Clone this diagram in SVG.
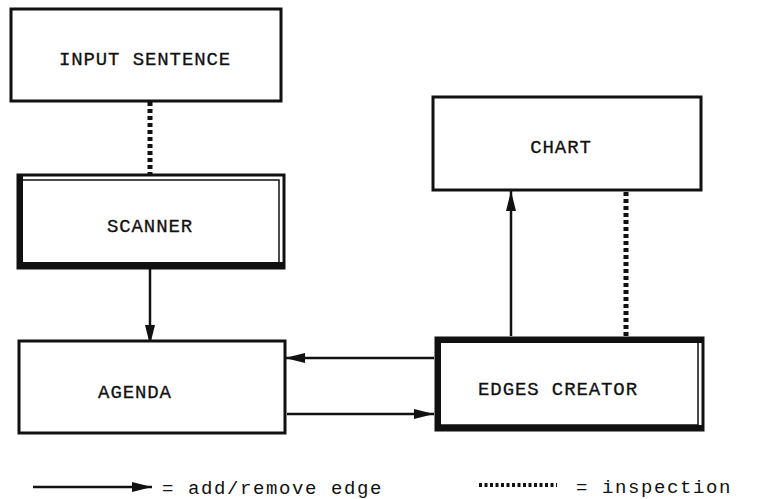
<svg xmlns="http://www.w3.org/2000/svg" width="764" height="499" viewBox="0 0 764 499">
<defs>
<style>
.box{fill:#fff;stroke:#111;stroke-width:3}
.in{fill:none;stroke:#111;stroke-width:1.5}
.thick{stroke:#111;stroke-width:6;fill:none}
.lbl{font-family:"Liberation Mono","DejaVu Sans Mono",monospace;font-size:19px;letter-spacing:0.9px;fill:#111;text-anchor:middle;stroke:#111;stroke-width:0.3}
.leg{font-family:"Liberation Mono","DejaVu Sans Mono",monospace;font-size:19px;letter-spacing:1.6px;fill:#111}
.arr{stroke:#111;stroke-width:2.5;fill:none;marker-end:url(#ah)}
.dot{stroke:#111;stroke-width:5;fill:none;stroke-dasharray:4 3}
</style>
<marker id="ah" viewBox="0 0 20 10" refX="20" refY="5" markerWidth="8" markerHeight="4" orient="auto" markerUnits="strokeWidth">
<path d="M0,0 L20,5 L0,10 Z" fill="#111"/>
</marker>
</defs>
<rect width="764" height="499" fill="#fff"/>
<g id="connectors">
<line class="dot" x1="150" y1="102" x2="150" y2="174"/>
<line class="arr" x1="150" y1="269" x2="150" y2="345"/>
<line class="arr" x1="511" y1="336" x2="511" y2="191"/>
<line class="dot" x1="626" y1="192" x2="626" y2="336"/>
<line class="arr" x1="434" y1="358" x2="285" y2="358"/>
<line class="arr" x1="287" y1="414" x2="434" y2="414"/>
</g>
<g id="input-sentence">
<rect class="box" x="11" y="9" width="270" height="92"/>
<text class="lbl" x="145" y="65">INPUT SENTENCE</text>
</g>
<g id="scanner">
<rect class="box" x="18" y="175" width="266" height="93"/>
<rect class="in" x="22" y="180" width="257" height="83"/>
<line class="thick" x1="20" y1="175" x2="20" y2="268"/>
<line class="thick" x1="18" y1="265" x2="284" y2="265"/>
<text class="lbl" x="150" y="232">SCANNER</text>
</g>
<g id="chart">
<rect class="box" x="433" y="97" width="268" height="93"/>
<text class="lbl" x="561" y="153">CHART</text>
</g>
<g id="agenda">
<rect class="box" x="19" y="341" width="266" height="92"/>
<text class="lbl" x="135" y="398">AGENDA</text>
</g>
<g id="edges-creator">
<rect class="box" x="436" y="338" width="267" height="92"/>
<rect class="in" x="440" y="342" width="258" height="83"/>
<line class="thick" x1="438" y1="338" x2="438" y2="430"/>
<line class="thick" x1="436" y1="340" x2="703" y2="340"/>
<line class="thick" x1="436" y1="428" x2="703" y2="428"/>
<text class="lbl" x="558" y="395">EDGES CREATOR</text>
</g>
<g id="legend">
<line class="arr" x1="33" y1="487" x2="152" y2="487"/>
<text class="leg" x="162" y="494">= add/remove edge</text>
<line class="dot" x1="479" y1="485" x2="557" y2="485" style="stroke-dasharray:3 2.5;stroke-width:4"/>
<text class="leg" x="576" y="493">= inspection</text>
</g>
</svg>
